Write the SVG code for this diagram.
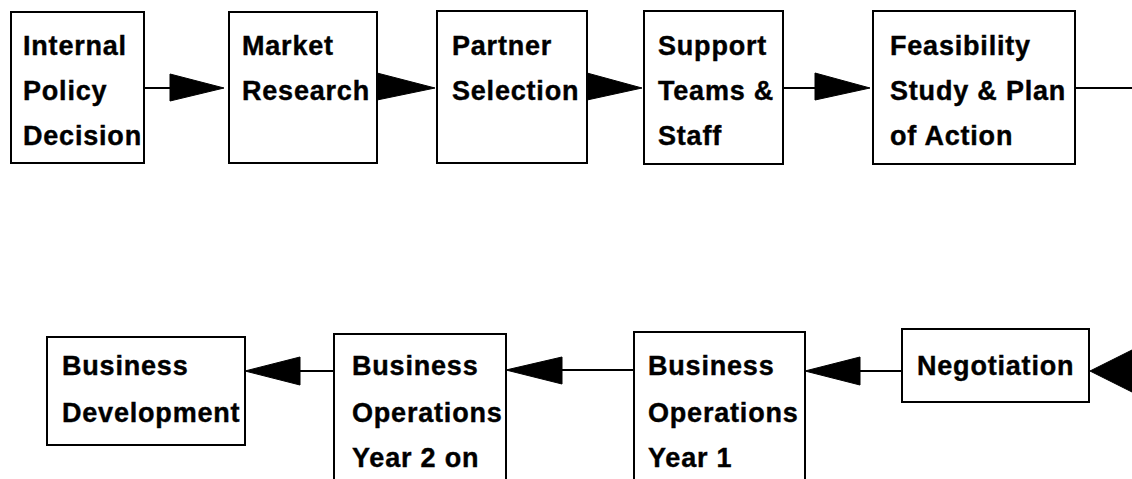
<svg xmlns="http://www.w3.org/2000/svg" width="1132" height="479" viewBox="0 0 1132 479">
  <style>
    .box { fill: #fff; stroke: #000; stroke-width: 2; }
    .lbl { font-family: "Liberation Sans", Arial, sans-serif; font-weight: bold; font-size: 27px; letter-spacing: 0.8px; fill: #000; stroke: #000; stroke-width: 0.4; }
    .wire { stroke: #000; stroke-width: 2; fill: none; }
    .head { fill: #000; stroke: #000; stroke-width: 1; stroke-linejoin: miter; }
  </style>
  <rect width="1132" height="479" fill="#fff"/>

  <!-- connectors: top row runs left to right, bottom row right to left -->
  <g id="connectors">
    <line class="wire" x1="144" y1="88" x2="172" y2="88"/>
    <polygon class="head" points="170,74 224,88 170,101"/>
    <polygon class="head" points="377,73 435,88 377,100"/>
    <polygon class="head" points="587,73 642,88 587,100"/>
    <line class="wire" x1="783" y1="88" x2="817" y2="88"/>
    <polygon class="head" points="815,73 870,88 815,100"/>
    <line class="wire" x1="1075" y1="88" x2="1132" y2="88"/>

    <polygon class="head" points="1132,350 1090,371 1132,392"/>
    <line class="wire" x1="858" y1="371" x2="902" y2="371"/>
    <polygon class="head" points="860,357 805,371 860,385"/>
    <line class="wire" x1="560" y1="370" x2="634" y2="370"/>
    <polygon class="head" points="562,357 506,370 562,384"/>
    <line class="wire" x1="298" y1="371" x2="334" y2="371"/>
    <polygon class="head" points="300,357 245,371 300,385"/>
  </g>

  <g id="internal-policy">
    <rect class="box" x="11" y="12" width="133" height="151"/>
    <text class="lbl" x="23" y="55">Internal</text>
    <text class="lbl" x="23" y="100">Policy</text>
    <text class="lbl" x="23" y="145">Decision</text>
  </g>

  <g id="market-research">
    <rect class="box" x="229" y="12" width="148" height="151"/>
    <text class="lbl" x="242" y="55">Market</text>
    <text class="lbl" x="242" y="100">Research</text>
  </g>

  <g id="partner-selection">
    <rect class="box" x="437" y="11" width="150" height="152"/>
    <text class="lbl" x="452" y="55">Partner</text>
    <text class="lbl" x="452" y="100">Selection</text>
  </g>

  <g id="support-teams">
    <rect class="box" x="644" y="11" width="139" height="153"/>
    <text class="lbl" x="658" y="55">Support</text>
    <text class="lbl" x="658" y="100">Teams &amp;</text>
    <text class="lbl" x="658" y="145">Staff</text>
  </g>

  <g id="feasibility">
    <rect class="box" x="873" y="11" width="202" height="153"/>
    <text class="lbl" x="890" y="55">Feasibility</text>
    <text class="lbl" x="890" y="100">Study &amp; Plan</text>
    <text class="lbl" x="890" y="145">of Action</text>
  </g>

  <g id="negotiation">
    <rect class="box" x="902" y="329" width="187" height="73"/>
    <text class="lbl" x="917" y="375">Negotiation</text>
  </g>

  <g id="operations-year-1">
    <rect class="box" x="634" y="332" width="171" height="160"/>
    <text class="lbl" x="648" y="375">Business</text>
    <text class="lbl" x="648" y="422">Operations</text>
    <text class="lbl" x="648" y="467">Year 1</text>
  </g>

  <g id="operations-year-2">
    <rect class="box" x="334" y="334" width="172" height="158"/>
    <text class="lbl" x="352" y="375">Business</text>
    <text class="lbl" x="352" y="422">Operations</text>
    <text class="lbl" x="352" y="467">Year 2 on</text>
  </g>

  <g id="business-development">
    <rect class="box" x="47" y="337" width="198" height="108"/>
    <text class="lbl" x="62" y="375">Business</text>
    <text class="lbl" x="62" y="422">Development</text>
  </g>
</svg>
